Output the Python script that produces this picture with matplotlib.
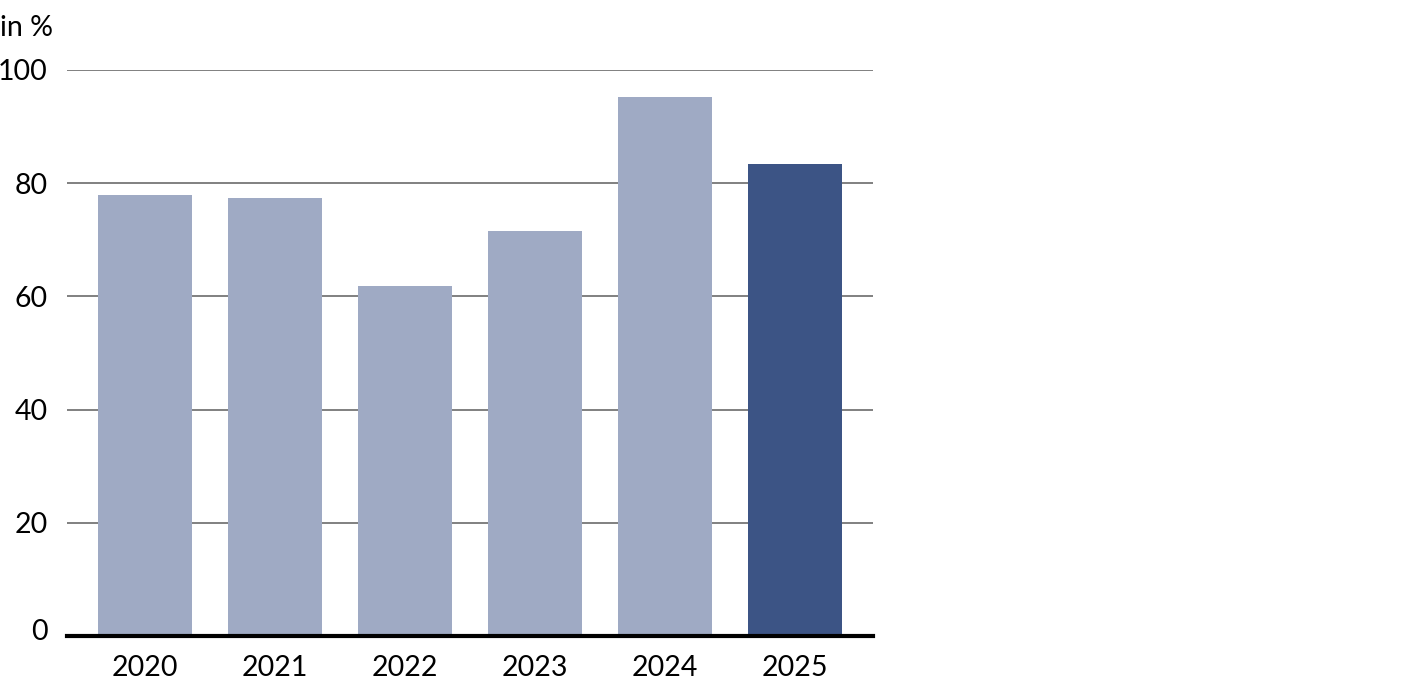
import matplotlib
matplotlib.use("Agg")
import matplotlib.pyplot as plt
from matplotlib.transforms import ScaledTranslation

years = ["2020", "2021", "2022", "2023", "2024", "2025"]
values = [77.9, 77.4, 61.8, 71.6, 95.2, 83.4]
bar_colors = ["#9FAAC4", "#9FAAC4", "#9FAAC4", "#9FAAC4", "#9FAAC4", "#3C5485"]
y_ticks = [0, 20, 40, 60, 80, 100]

plt.rcParams['font.family'] = ['Lato', 'DejaVu Sans']

fig = plt.figure(figsize=(14.12, 6.94), dpi=100)
ax = fig.add_axes([67 / 1412, 1 - 636 / 694, (873 - 67) / 1412, (636 - 70) / 694])

x = range(len(years))
ax.bar(x, values, width=0.723, color=bar_colors, zorder=3)

ax.set_xlim(-0.6, 5.6)
ax.set_ylim(0, 100)
ax.set_yticks(y_ticks)
ax.set_yticklabels([str(t) for t in y_ticks], fontsize=20.5)
ax.set_xticks(list(x))
ax.set_xticklabels(years, fontsize=20.5)
ax.tick_params(axis='y', length=0, pad=14)
ax.tick_params(axis='x', length=0, pad=14)
ax.yaxis.grid(True, color="#808080", linewidth=1.4, zorder=1)
for side in ['top', 'right', 'left']:
    ax.spines[side].set_visible(False)
ax.spines['bottom'].set_linewidth(3)
ax.spines['bottom'].set_color("black")
ax.spines['bottom'].set_zorder(4)

# the zero label sits a little above the thick baseline
zero_lbl = ax.get_yticklabels()[0]
zero_lbl.set_transform(zero_lbl.get_transform() + ScaledTranslation(0, 0.07, fig.dpi_scale_trans))

fig.text(0, 1 - 28 / 694, "in %", fontsize=20.5, ha='left', va='center')

fig.savefig("out.png", dpi=100)
